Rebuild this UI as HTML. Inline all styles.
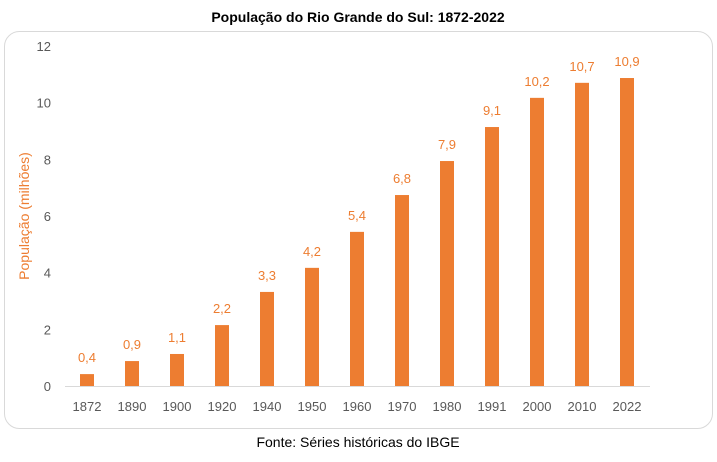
<!DOCTYPE html>
<html><head><meta charset="utf-8"><style>
body{margin:0;width:717px;height:457px;background:#fff;font-family:"Liberation Sans",sans-serif;overflow:hidden}
</style></head><body>
<svg width="717" height="457" xmlns="http://www.w3.org/2000/svg">
<text x="358" y="22" text-anchor="middle" font-size="14" font-weight="bold" fill="#000">População do Rio Grande do Sul: 1872-2022</text>
<rect x="4.5" y="31.5" width="708" height="397" rx="15" fill="#fff" stroke="#d9d9d9"/>
<g id="yticks"></g>
<g id="bars"></g>
<line x1="65" y1="386.5" x2="650" y2="386.5" stroke="#d9d9d9"/>
<text transform="translate(29,216) rotate(-90)" text-anchor="middle" font-size="14" fill="#ed7d31">População (milhões)</text>
<text x="358" y="447" text-anchor="middle" font-size="14" fill="#000">Fonte: Séries históricas do IBGE</text>
</svg>
<script>
const categories=["1872","1890","1900","1920","1940","1950","1960","1970","1980","1991","2000","2010","2022"];
const values=[0.42,0.88,1.13,2.15,3.32,4.17,5.44,6.74,7.94,9.14,10.17,10.7,10.87];
const valueLabels=["0,4","0,9","1,1","2,2","3,3","4,2","5,4","6,8","7,9","9,1","10,2","10,7","10,9"];
const yTicks=[0,2,4,6,8,10,12];
const NS="http://www.w3.org/2000/svg";
function y(v){return 386-v*(340/12);}
function x(i){return 87+i*45;}
const yt=document.getElementById('yticks');
yTicks.forEach(t=>{
 const e=document.createElementNS(NS,'text');
 
 
 e.setAttribute('x',51);e.setAttribute('y',y(t)+5);e.setAttribute('text-anchor','end');
 e.setAttribute('font-size','13');e.setAttribute('fill','#595959');e.textContent=t;yt.appendChild(e);
});
const bg=document.getElementById('bars');
categories.forEach((c,i)=>{
 const r=document.createElementNS(NS,'rect');
 
 
 r.setAttribute('x',x(i)-7);r.setAttribute('y',y(values[i]));r.setAttribute('width',14);
 r.setAttribute('height',386-y(values[i]));r.setAttribute('fill','#ed7d31');bg.appendChild(r);
 const l=document.createElementNS(NS,'text');
 
 
 l.setAttribute('x',x(i));l.setAttribute('y',y(values[i])-12);l.setAttribute('text-anchor','middle');
 l.setAttribute('font-size','13');l.setAttribute('fill','#ed7d31');l.textContent=valueLabels[i];bg.appendChild(l);
 const t=document.createElementNS(NS,'text');
 
 
 t.setAttribute('x',x(i));t.setAttribute('y',411);t.setAttribute('text-anchor','middle');
 t.setAttribute('font-size','13');t.setAttribute('fill','#595959');t.textContent=c;bg.appendChild(t);
});
</script>
</body></html>
